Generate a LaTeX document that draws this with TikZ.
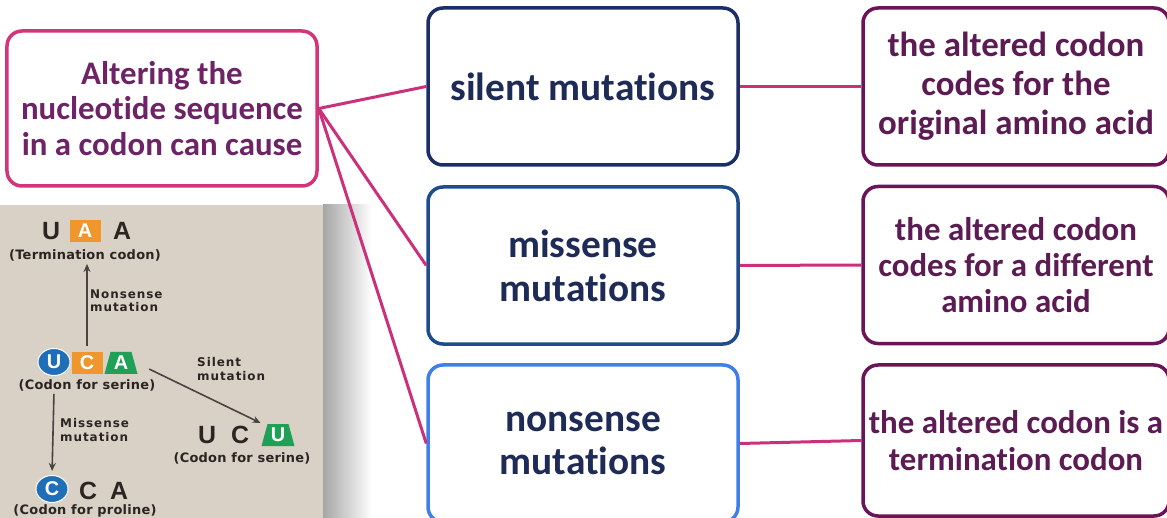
\documentclass[tikz,border=0pt]{standalone}
\usepackage{fontspec}
\setmainfont{Carlito}[Ligatures=NoCommon]
\newfontfamily\panelfont{Liberation Sans}
\newfontfamily\labelfont{DejaVu Sans}[LetterSpace=2]
\newfontfamily\notefont{DejaVu Sans}[LetterSpace=8]
\usetikzlibrary{arrows.meta, positioning, shapes.geometric}

\definecolor{causeline}{HTML}{D2357A}
\definecolor{causetext}{HTML}{6E2366}
\definecolor{typetext}{HTML}{1F2B57}
\definecolor{silentline}{HTML}{1C2E68}
\definecolor{missenseline}{HTML}{1F4C8E}
\definecolor{nonsenseline}{HTML}{3F80E8}
\definecolor{effectline}{HTML}{6C1458}
\definecolor{effecttext}{HTML}{5C1B52}
\definecolor{linkcol}{HTML}{CB317A}
\definecolor{panelbg}{HTML}{D9D0C6}
\definecolor{letterdark}{HTML}{2B2522}
\definecolor{tileorange}{HTML}{EF962C}
\definecolor{tilegreen}{HTML}{20A057}
\definecolor{tileblue}{HTML}{1F6FB8}
\definecolor{arrowgrey}{HTML}{4A4440}

\begin{document}
\begin{tikzpicture}[
    x=1bp, y=-1bp,
    >={Stealth[length=8bp, width=7bp]},
    box/.style={draw, rounded corners=15bp, line width=3.5bp, fill=white,
                align=center, inner sep=0pt},
    causebox/.style={box, draw=causeline, text=causetext,
                     minimum width=310bp, minimum height=155bp,
                     font=\bfseries\fontsize{33}{36}\selectfont},
    typebox/.style={box, text=typetext, minimum width=310bp,
                    minimum height=157bp,
                    font=\bfseries\fontsize{39.5}{44}\selectfont},
    effectbox/.style={box, draw=effectline, text=effecttext,
                      minimum width=306bp, minimum height=157bp,
                      font=\bfseries\fontsize{33}{37}\selectfont},
    link/.style={draw=linkcol, line width=3bp},
    letter/.style={text=letterdark, inner sep=0pt,
                   font=\panelfont\bfseries\fontsize{25}{25}\selectfont},
    tile/.style={text=white, inner sep=0pt, minimum width=31bp,
                 minimum height=22bp,
                 font=\panelfont\bfseries\fontsize{20}{20}\selectfont},
    disc/.style={tile, ellipse, fill=tileblue, draw=white,
                 line width=1bp, minimum width=32bp, minimum height=27bp},
    caption/.style={text=letterdark, inner sep=1bp,
                    font=\labelfont\bfseries\fontsize{13}{13}\selectfont},
    note/.style={text=letterdark, inner sep=0pt, align=left,
                 font=\notefont\bfseries\fontsize{12}{13.5}\selectfont},
    arrowline/.style={->, draw=arrowgrey, line width=1.6bp}
  ]
  \useasboundingbox (0,0) rectangle (1167,518);
  \clip (0,0) rectangle (1167,518);

  % codon panel
  \fill[panelbg] (0,205) rectangle (323,530);
  \shade[left color=black!35, right color=white] (323,205) rectangle (372,518);

  \node[letter] (uaa1) at (51,231) {U};
  \node[tile, fill=tileorange] (uaa2) at (85,231) {A};
  \node[letter] (uaa3) at (122,231) {A};
  \node[caption] (termlbl) at (85,255) {(Termination codon)};

  \node[disc] (uca1) at (54,362) {U};
  \node[tile, fill=tileorange] (uca2) at (87,363) {C};
  \fill[tilegreen] (104.5,374) -- (137.5,374) -- (131.5,352) -- (110.5,352) -- cycle;
  \node[tile] (uca3) at (121,363) {A};
  \node[caption] (serlbl) at (87,385) {(Codon for serine)};

  \node[letter] (ucu1) at (207,435) {U};
  \node[letter] (ucu2) at (240,435) {C};
  \fill[tilegreen] (261.5,446) -- (294.5,446) -- (288.5,424) -- (267.5,424) -- cycle;
  \node[tile] (ucu3) at (278,435) {U};
  \node[caption] (ser2lbl) at (242,458) {(Codon for serine)};

  \node[disc] (cca1) at (52,489) {C};
  \node[letter] (cca2) at (88,491) {C};
  \node[letter] (cca3) at (119,491) {A};
  \node[caption] (prolbl) at (85,511) {(Codon for proline)};

  \node[note, anchor=west] (nonsenselbl) at (90,301) {Nonsense\\mutation};
  \node[note, anchor=west] (missenselbl) at (60,430) {Missense\\mutation};
  \node[note, anchor=west] (silentlbl) at (197,369) {Silent\\mutation};

  \draw[arrowline, shorten <=6bp, shorten >=2bp]
    (uca2.north) -- (uca2.north |- termlbl.south);
  \draw[arrowline, shorten <=2bp, shorten >=4bp]
    (uca1.center |- serlbl.south) -- (cca1.north);
  \draw[arrowline, shorten <=14bp, shorten >=2bp]
    (uca3.east) -- (ucu3.north west);

  % concept boxes
  \node[causebox] (cause) at (162,108.5)
    {Altering the\\nucleotide sequence\\in a codon can cause};

  \node[typebox, draw=silentline] (silent) at (583,86.5) {silent mutations};
  \node[typebox, draw=missenseline] (missense) at (583,265.5)
    {missense\\mutations};
  \node[typebox, draw=nonsenseline] (nonsense) at (583,443.5)
    {nonsense\\mutations};

  \node[effectbox, font=\bfseries\fontsize{35}{39}\selectfont] (original)
    at (1016,86.5) {the altered codon\\codes for the\\original amino acid};
  \node[effectbox, font=\bfseries\fontsize{33}{36}\selectfont] (different)
    at (1016,265) {the altered codon\\codes for a different\\amino acid};
  \node[effectbox, minimum height=151bp] (termination) at (1016,440.5)
    {the altered codon is a\\termination codon};

  \draw[link] (cause.east) -- (silent.west);
  \draw[link] (cause.east) -- (missense.west);
  \draw[link] (cause.east) -- (nonsense.west);
  \draw[link] (silent.east) -- (original.west);
  \draw[link] (missense.east) -- (different.west);
  \draw[link] (nonsense.east) -- (termination.west);
\end{tikzpicture}
\end{document}
